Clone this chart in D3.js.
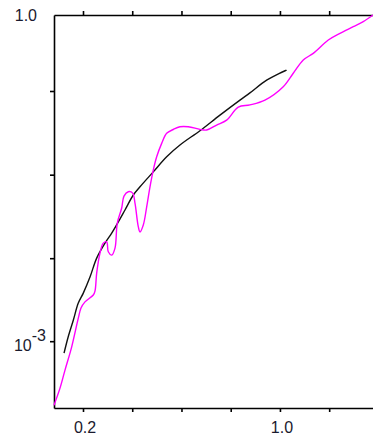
<!DOCTYPE html>
<html>
<head>
<meta charset="utf-8">
<script src="https://cdn.jsdelivr.net/npm/d3@7"></script>
<style>
  body { margin: 0; background: #fff; }
  svg { display: block; }
  .axis path, .axis line { stroke: #000; }
  .lbl { font-family: Arial, "Liberation Sans", sans-serif; font-size: 16px; fill: #1a1a2e; }
</style>
</head>
<body>
<svg id="chart" width="373" height="440"></svg>
<script>
// black curve (x, y)
var blackX = [0.123, 0.140, 0.1606, 0.1809, 0.2012, 0.2284, 0.2556, 0.2893, 0.3166, 0.3434, 0.3706,
  0.4043, 0.4315, 0.4855, 0.5399, 0.5939, 0.6751, 0.7563, 0.8376, 0.878, 0.946, 1.027];
var blackY = [7.78e-4, 1.10e-3, 1.56e-3, 2.24e-3, 2.77e-3, 3.89e-3, 5.81e-3, 7.98e-3, 9.87e-3, 1.25e-2, 1.61e-2,
  2.21e-2, 2.63e-2, 3.61e-2, 4.97e-2, 6.37e-2, 8.63e-2, 0.120, 0.165, 0.192, 0.252, 0.312];

// magenta curve (x, y)
var pinkX = [0.0822, 0.1066, 0.1269, 0.1541, 0.1809, 0.1919, 0.2081, 0.2418, 0.2487, 0.2556, 0.2690,
  0.2824, 0.2962, 0.3027, 0.3166, 0.3300, 0.3393, 0.3572, 0.3665, 0.3840, 0.4018, 0.4112, 0.4246,
  0.4315, 0.4449, 0.4587, 0.4721, 0.4855, 0.4993, 0.5196, 0.5399, 0.5667, 0.5939, 0.6276, 0.6751,
  0.7023, 0.7429, 0.7835, 0.8307, 0.8782, 0.9391, 1.0134, 1.054, 1.0947, 1.1353, 1.1964, 1.2439,
  1.2979, 1.3385, 1.378];
var pinkY = [2.58e-4, 3.70e-4, 5.42e-4, 8.88e-4, 1.63e-3, 2.02e-3, 2.30e-3, 2.66e-3, 2.89e-3, 4.23e-3, 6.46e-3,
  7.98e-3, 8.20e-3, 6.64e-3, 6.19e-3, 7.18e-3, 1.22e-2, 1.68e-2, 2.16e-2, 2.37e-2, 2.30e-2, 1.86e-2, 1.13e-2,
  1.01e-2, 1.17e-2, 1.72e-2, 2.63e-2, 3.75e-2, 4.97e-2, 6.60e-2, 8.16e-2, 8.85e-2, 9.38e-2, 9.38e-2, 8.88e-2,
  8.75e-2, 9.73e-2, 0.108, 0.142, 0.149, 0.165, 0.219, 0.291, 0.386, 0.444, 0.589, 0.679,
  0.780, 0.868, 1.0];

var xTicks = [0.2, 0.4, 0.6, 0.8, 1.0, 1.2];
var xLabels = [0.2, 1.0];
var yTicks = [1e-3, 5.8e-3, 0.034, 0.2];

var svg = d3.select("#chart");
var margin = {top: 15, right: 0, bottom: 32, left: 54},
    width = 373 - margin.left - margin.right,
    height = 440 - margin.top - margin.bottom;

var g = svg.append("g").attr("transform", "translate(" + margin.left + "," + margin.top + ")");

var x = d3.scaleLinear().domain([0.0822, 1.378]).range([0, width]);
var y = d3.scaleLog().domain([2.43e-4, 1.0]).range([height, 0]);

// axes
g.append("g").attr("class", "axis")
  .attr("transform", "translate(0," + height + ")")
  .call(d3.axisBottom(x).tickValues(xTicks).tickSize(4).tickSizeOuter(0).tickFormat(""))
  .selectAll("path, line").attr("stroke-width", 1.6);

g.append("g").attr("class", "axis")
  .call(d3.axisTop(x).tickValues(xTicks).tickSize(4).tickSizeOuter(0).tickFormat(""))
  .selectAll("path, line").attr("stroke-width", 1.6);

g.append("g").attr("class", "axis")
  .call(d3.axisLeft(y).tickValues(yTicks).tickSize(4).tickSizeOuter(0).tickFormat(""))
  .selectAll("path, line").attr("stroke-width", 1.6);

// labels
g.selectAll(".xl").data(xLabels).enter().append("text")
  .attr("class", "lbl")
  .attr("x", function(d) { return x(d) + 2; })
  .attr("y", height + 25)
  .attr("text-anchor", "middle")
  .text(function(d) { return d.toFixed(1); });

g.append("text").attr("class", "lbl")
  .attr("x", -17).attr("y", y(1.0) + 6)
  .attr("text-anchor", "end")
  .text("1.0");

var e = g.append("text").attr("class", "lbl")
  .attr("x", -8).attr("y", y(1e-3) + 10)
  .attr("text-anchor", "end");
e.append("tspan").text("10");
e.append("tspan").attr("dy", -10).text("-3");

// curves
var line = d3.line()
  .x(function(d) { return x(d[0]); })
  .y(function(d) { return y(d[1]); })
  .curve(d3.curveCatmullRom.alpha(0.5));

g.append("path")
  .datum(blackX.map(function(v, i) { return [v, blackY[i]]; }))
  .attr("d", line)
  .attr("fill", "none")
  .attr("stroke", "#111")
  .attr("stroke-width", 1.4);

g.append("path")
  .datum(pinkX.map(function(v, i) { return [v, pinkY[i]]; }))
  .attr("d", line)
  .attr("fill", "none")
  .attr("stroke", "#ff00ff")
  .attr("stroke-width", 1.4);
</script>
</body>
</html>
